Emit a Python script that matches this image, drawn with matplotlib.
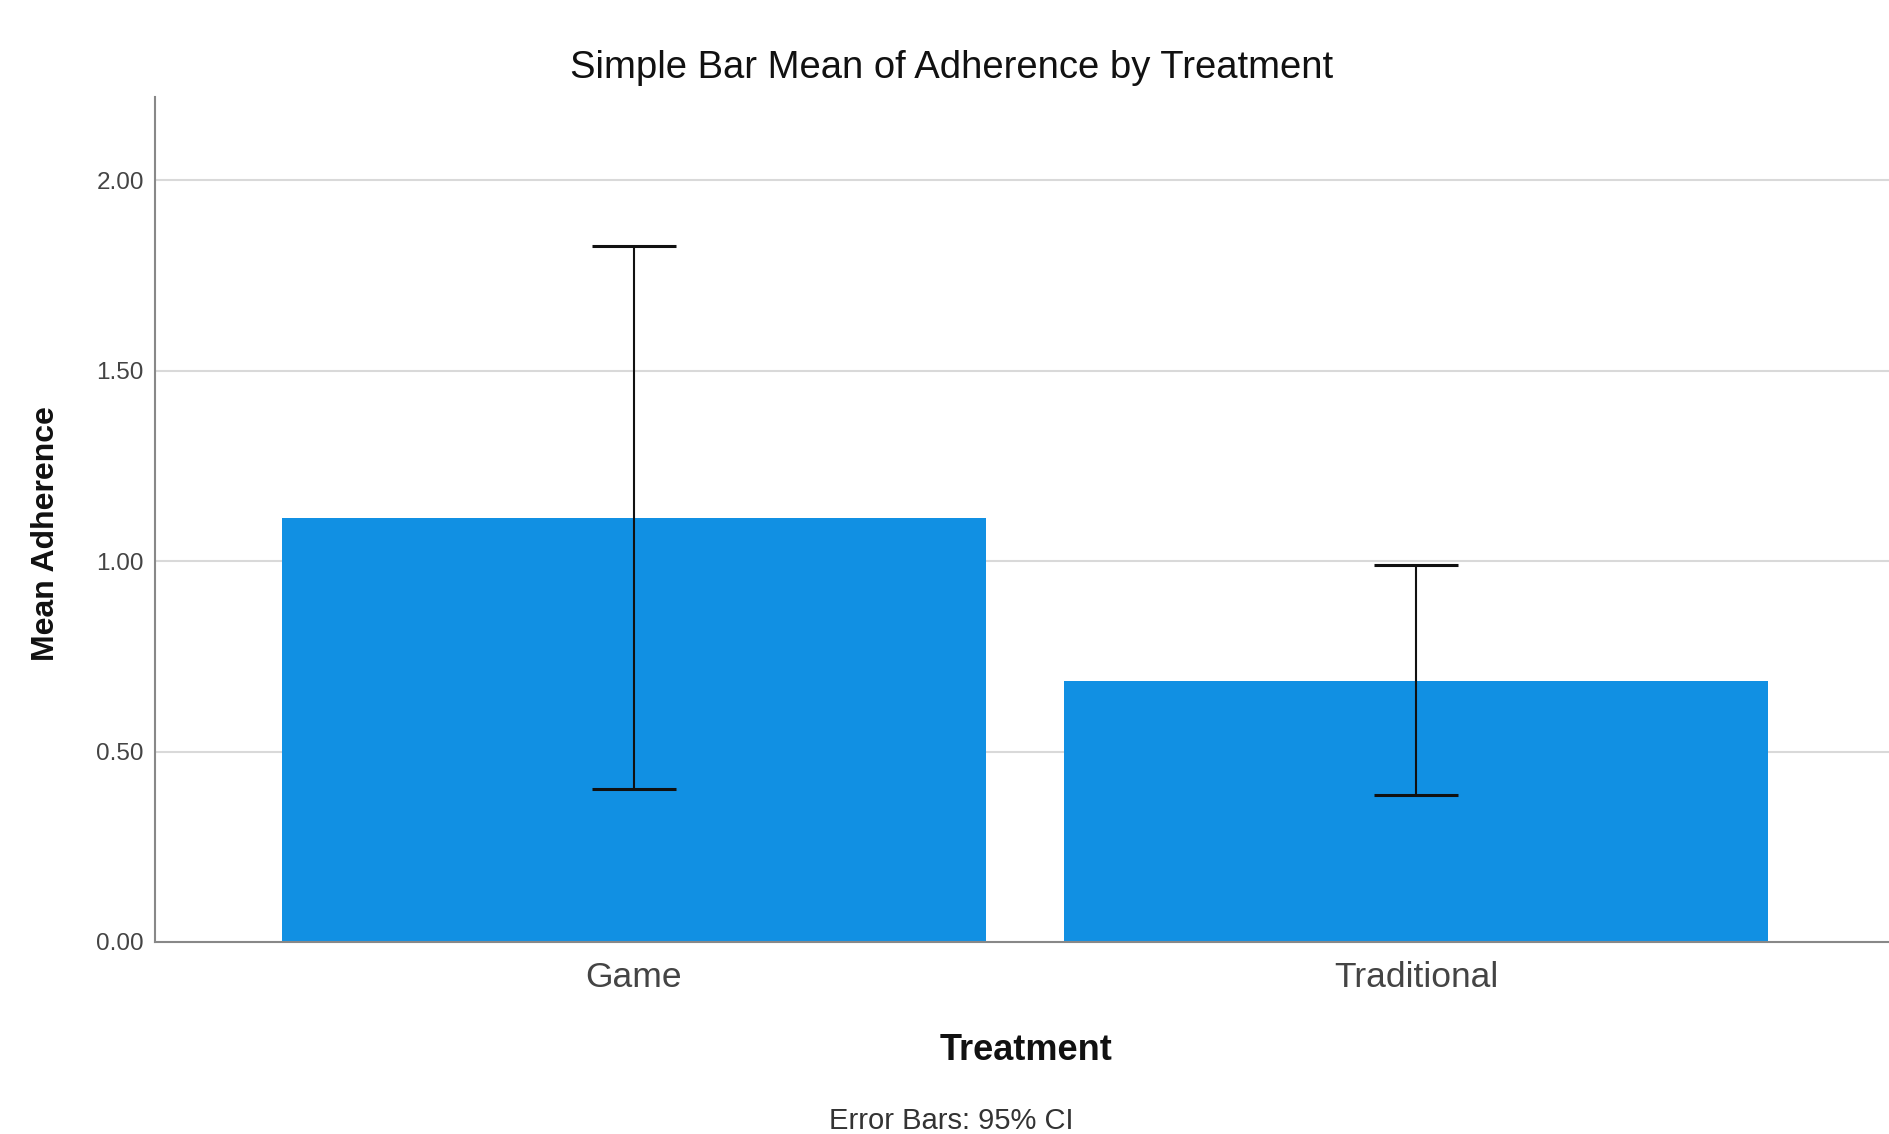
import matplotlib
matplotlib.use("Agg")
import matplotlib.pyplot as plt
import numpy as np

categories = ["Game", "Traditional"]
means = [1.113, 0.685]
ci_low = [0.401, 0.386]
ci_high = [1.827, 0.990]
yticks = [0.0, 0.5, 1.0, 1.5, 2.0]

plt.rcParams['font.family'] = ['Liberation Sans', 'DejaVu Sans']

fig = plt.figure(figsize=(18.9, 11.34), dpi=100)
ax = fig.add_axes([155/1890, 1 - 942/1134, 1 - 155/1890, (942 - 97)/1134])

x = np.arange(len(categories))
ax.bar(x, means, width=0.9, color='#1190e3', zorder=2)
m = np.array(means)
yerr = np.array([m - np.array(ci_low), np.array(ci_high) - m])
ax.errorbar(x, means, yerr=yerr, fmt='none', ecolor='#111111', elinewidth=1.5,
            capsize=30, capthick=2.2, zorder=3)

ax.set_xlim(-0.6125, 1.606)
ax.set_ylim(0, 2.219)
ax.set_yticks(yticks)
ax.set_yticklabels([f"{v:.2f}" for v in yticks])
ax.set_xticks(x)
ax.set_xticklabels(categories)
ax.tick_params(axis='y', length=0, pad=8, labelsize=17.5, labelcolor='#444444')
ax.tick_params(axis='x', length=0, pad=14, labelsize=25.5, labelcolor='#444444')

for v in yticks[1:]:
    ax.axhline(v, color='#d9d9d9', lw=1.5, zorder=1)

for s in ['top', 'right']:
    ax.spines[s].set_visible(False)
for s in ['left', 'bottom']:
    ax.spines[s].set_color('#888888')
    ax.spines[s].set_linewidth(1.5)
ax.spines['bottom'].set_zorder(4)

fig.text(952/1890, 1 - 68/1134, "Simple Bar Mean of Adherence by Treatment",
         ha='center', va='center', fontsize=27.5, color='#111111')
fig.text(1026/1890, 1 - 1051/1134, "Treatment", ha='center', va='center',
         fontsize=26, fontweight='bold', color='#111111')
fig.text(46/1890, 1 - 534/1134, "Mean Adherence", ha='center', va='center',
         rotation=90, fontsize=23, fontweight='bold', color='#111111')
fig.text(951/1890, 1 - 1121/1134, "Error Bars: 95% CI", ha='center', va='center',
         fontsize=21, color='#333333')

fig.savefig("out.png", dpi=100)
